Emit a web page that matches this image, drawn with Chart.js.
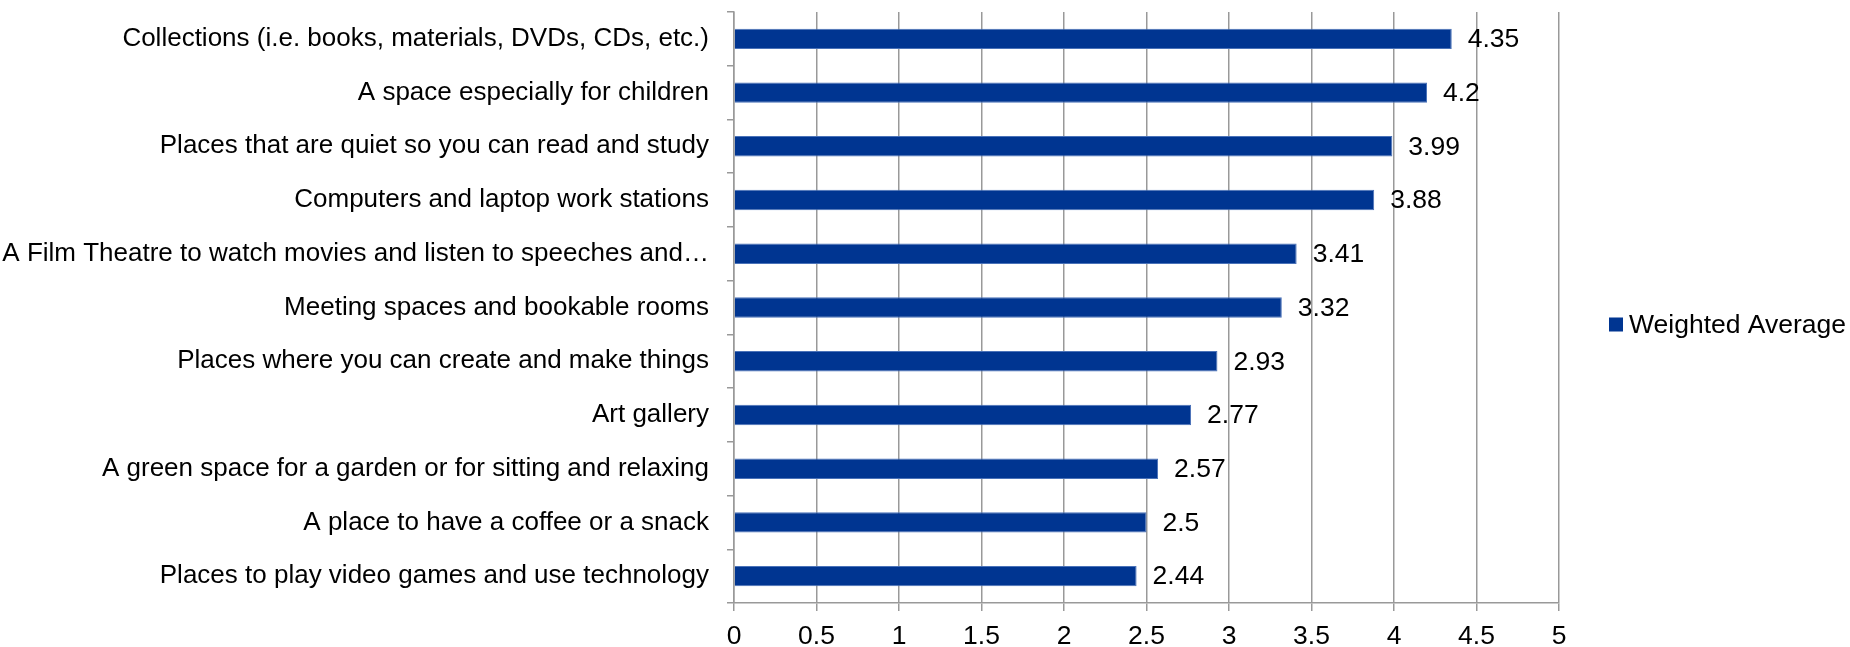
<!DOCTYPE html>
<html>
<head>
<meta charset="utf-8">
<script src="https://cdn.jsdelivr.net/npm/chart.js@4"></script>
<style>
  html, body { margin: 0; padding: 0; background: #fff; }
  #wrap { width: 1850px; height: 647px; position: relative; }
</style>
</head>
<body>
<div id="wrap"><canvas id="mycanvas" width="1850" height="647"></canvas></div>
<script>
var categories = [
	"Collections (i.e. books, materials, DVDs, CDs, etc.)",
	"A space especially for children",
	"Places that are quiet so you can read and study",
	"Computers and laptop work stations",
	"A Film Theatre to watch movies and listen to speeches and\u2026",
	"Meeting spaces and bookable rooms",
	"Places where you can create and make things",
	"Art gallery",
	"A green space for a garden or for sitting and relaxing",
	"A place to have a coffee or a snack",
	"Places to play video games and use technology"
];
var weighted_average = [4.35, 4.2, 3.99, 3.88, 3.41, 3.32, 2.93, 2.77, 2.57, 2.5, 2.44];
var value_labels = ["4.35", "4.2", "3.99", "3.88", "3.41", "3.32", "2.93", "2.77", "2.57", "2.5", "2.44"];
var series_name = "Weighted Average";

var FONT = "'Liberation Sans', Arial, sans-serif";
var FSIZE = 26.5;
var BAR = "#003591";

// value labels next to each bar
var valueLabels = {
	id: "valueLabels",
	afterDatasetsDraw: function(chart) {
		var ctx = chart.ctx;
		var meta = chart.getDatasetMeta(0);
		ctx.save();
		ctx.font = FSIZE + "px " + FONT;
		ctx.fillStyle = "#000";
		ctx.textBaseline = "middle";
		ctx.textAlign = "left";
		meta.data.forEach(function(bar, i) {
			ctx.fillText(value_labels[i], bar.x + 16, bar.y + 1);
		});
		ctx.restore();
	}
};

// legend on the right
var sideLegend = {
	id: "sideLegend",
	afterDraw: function(chart) {
		var ctx = chart.ctx;
		var y = (chart.chartArea.top + chart.chartArea.bottom) / 2 + 17;
		ctx.save();
		ctx.fillStyle = BAR;
		ctx.fillRect(1609, y - 7, 14, 14);
		ctx.font = FSIZE + "px " + FONT;
		ctx.fillStyle = "#000";
		ctx.textBaseline = "middle";
		ctx.fillText(series_name, 1629, y + 1);
		ctx.restore();
	}
};

var ctx = document.getElementById("mycanvas");

var chart = new Chart(ctx, {
	type: "bar",
	data: {
		labels: categories,
		datasets: [{
			label: series_name,
			data: weighted_average,
			backgroundColor: BAR,
			borderColor: "#4a72b8",
			borderWidth: 1,
			categoryPercentage: 1,
			barPercentage: 0.38
		}]
	},
	options: {
		indexAxis: "y",
		responsive: false,
		animation: false,
		layout: { padding: { top: 12, right: 291, left: 0, bottom: 0 } },
		plugins: {
			legend: { display: false },
			tooltip: { enabled: false }
		},
		scales: {
			x: {
				min: 0,
				max: 5,
				ticks: {
					stepSize: 0.5,
					color: "#000",
					padding: 10,
					font: { family: FONT, size: FSIZE },
					callback: function(value) { return String(Math.round(value * 10) / 10); }
				},
				grid: {
					color: "#999",
					lineWidth: 1.5,
					tickLength: 8,
					tickColor: "#999"
				},
				border: { color: "#999", width: 1.5 },
				afterFit: function(scale) {
					scale.height = 44;
					scale.paddingLeft = 0;
					scale.paddingRight = 0;
				}
			},
			y: {
				ticks: {
					color: "#000",
					padding: 18,
					autoSkip: false,
					font: { family: FONT, size: 26 }
				},
				grid: {
					drawOnChartArea: false,
					color: "#999",
					lineWidth: 1.5,
					tickLength: 7
				},
				border: { color: "#999", width: 1.5 },
				afterFit: function(scale) {
					scale.width = 734;
					scale.paddingTop = 0;
					scale.paddingBottom = 0;
				}
			}
		}
	},
	plugins: [valueLabels, sideLegend]
});
</script>
</body>
</html>
